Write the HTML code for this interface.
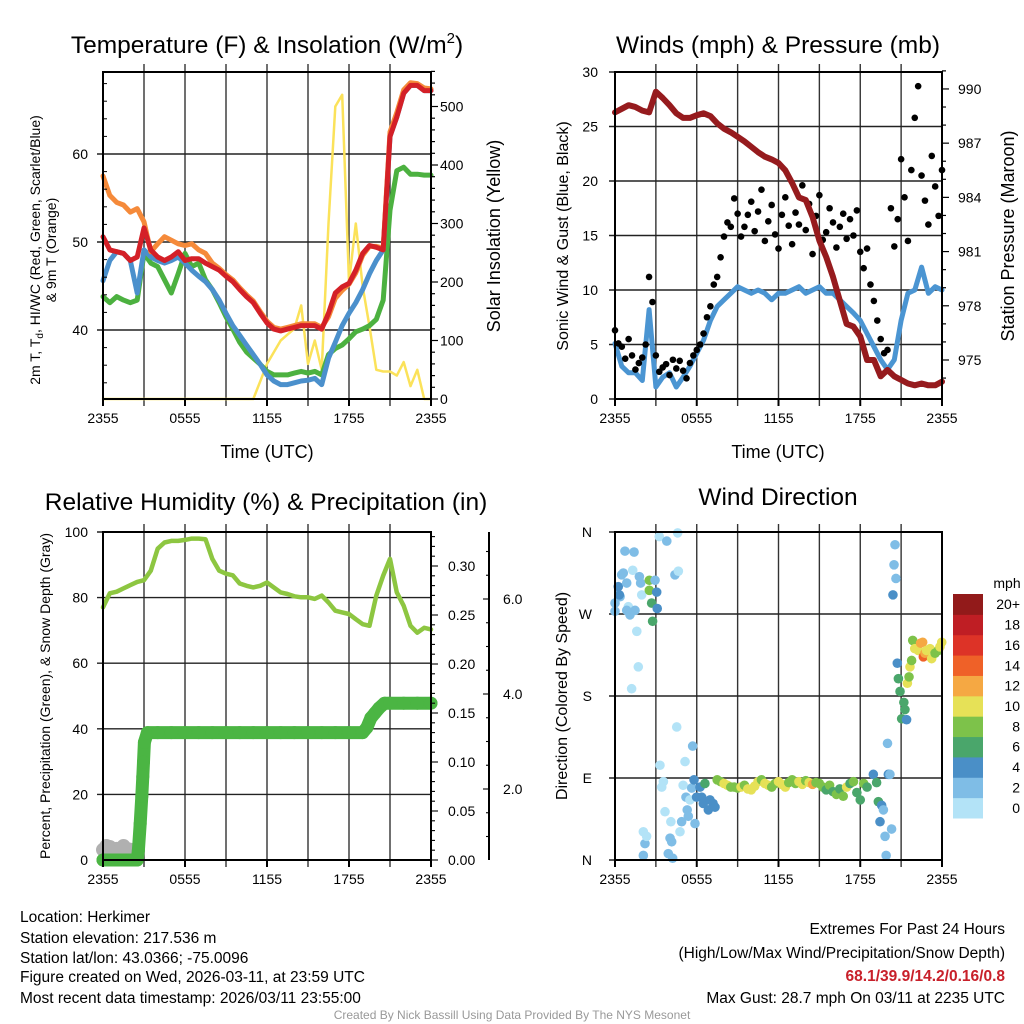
<!DOCTYPE html>
<html><head><meta charset="utf-8"><style>
html,body{margin:0;padding:0;background:#fff;}
svg{display:block;font-family:"Liberation Sans",sans-serif;}
</style></head><body>
<svg id="chart" width="1024" height="1024" viewBox="0 0 1024 1024" xmlns="http://www.w3.org/2000/svg">
<rect width="1024" height="1024" fill="#fff"/>
<g id="layer-grid"></g>
<g id="layer-data"></g>
<g id="layer-axes"></g>
<g id="layer-text" font-family="Liberation Sans, sans-serif">
<text x="267" y="53" font-size="24.5" text-anchor="middle">Temperature (F) &amp; Insolation (W/m<tspan font-size="15" dy="-10">2</tspan><tspan dy="10">)</tspan></text>
<text x="778" y="53" font-size="24.5" text-anchor="middle">Winds (mph) &amp; Pressure (mb)</text>
<text x="266" y="510" font-size="24.5" text-anchor="middle">Relative Humidity (%) &amp; Precipitation (in)</text>
<text x="778" y="505" font-size="24.5" text-anchor="middle">Wind Direction</text>
<text x="267" y="458" font-size="18" text-anchor="middle">Time (UTC)</text>
<text x="778" y="458" font-size="18" text-anchor="middle">Time (UTC)</text>
<text transform="translate(40,250) rotate(-90)" font-size="14" text-anchor="middle">2m T, T<tspan font-size="10" dy="3">d</tspan><tspan dy="-3">, HI/WC (Red, Green, Scarlet/Blue)</tspan></text>
<text transform="translate(56,250) rotate(-90)" font-size="14" text-anchor="middle">&amp; 9m T (Orange)</text>
<text transform="translate(500,236) rotate(-90)" font-size="18" text-anchor="middle">Solar Insolation (Yellow)</text>
<text transform="translate(568,236) rotate(-90)" font-size="16" text-anchor="middle">Sonic Wind &amp; Gust (Blue, Black)</text>
<text transform="translate(1014,236) rotate(-90)" font-size="18" text-anchor="middle">Station Pressure (Maroon)</text>
<text transform="translate(50,696) rotate(-90)" font-size="14" text-anchor="middle">Percent, Precipitation (Green), &amp; Snow Depth (Gray)</text>
<text transform="translate(567,696) rotate(-90)" font-size="16" text-anchor="middle">Direction (Colored By Speed)</text>
<text x="1007" y="588" font-size="14" text-anchor="middle">mph</text>
<g font-size="15.5">
<text x="20" y="922">Location: Herkimer</text>
<text x="20" y="943">Station elevation: 217.536 m</text>
<text x="20" y="963">Station lat/lon: 43.0366; -75.0096</text>
<text x="20" y="982">Figure created on Wed, 2026-03-11, at 23:59 UTC</text>
<text x="20" y="1003">Most recent data timestamp: 2026/03/11 23:55:00</text>
<text x="1005" y="934" text-anchor="end">Extremes For Past 24 Hours</text>
<text x="1005" y="958" text-anchor="end">(High/Low/Max Wind/Precipitation/Snow Depth)</text>
<text x="1005" y="981" text-anchor="end" fill="#c8202a" font-weight="bold">68.1/39.9/14.2/0.16/0.8</text>
<text x="1005" y="1003" text-anchor="end">Max Gust: 28.7 mph On 03/11 at 2235 UTC</text>
</g>
<text x="512" y="1019" font-size="12" fill="#999" text-anchor="middle">Created By Nick Bassill Using Data Provided By The NYS Mesonet</text>
</g>
</svg>
<script>
// ---------- DATA (half-hour steps from 2355 UTC) ----------
const timeLabels = ["2355","0555","1155","1755","2355"];
const tempRed = [50.6,49.1,48.9,48.7,47.9,48.3,51.6,49.1,48.3,47.9,48.3,48.9,47.9,48.1,48.1,47.6,47.2,46.8,46.1,45.5,44.6,43.8,43.1,41.9,40.8,40.1,39.9,40.1,40.3,40.5,40.5,40.5,40.1,41.9,44.2,44.9,45.3,46.8,48.7,49.6,49.4,49.1,62.0,64.2,66.9,67.8,67.8,67.2,67.2];
const temp9mOrange = [57.5,55.3,54.5,54.2,53.4,53.8,52.3,48.9,49.8,50.6,50.2,49.8,49.6,49.8,49.1,48.7,47.6,47.0,46.3,45.7,44.8,44.0,43.3,42.1,41.0,40.3,40.1,40.3,40.5,40.7,40.7,40.7,40.3,41.5,43.6,44.5,45.2,46.5,48.5,49.5,49.5,49.3,62.5,64.7,67.3,68.1,68.0,67.5,67.4];
const windChillBlue = [45.6,47.9,48.9,48.7,47.9,44.2,49.1,48.3,47.9,47.6,47.9,48.3,47.6,46.8,46.1,45.5,44.6,43.4,41.9,40.5,39.4,38.3,37.2,36.1,34.9,34.2,33.8,33.8,34.0,34.2,34.3,34.5,33.8,36.8,38.6,40.5,41.9,43.1,44.6,46.4,47.9,49.1,62.0,64.2,66.9,67.8,67.8,67.2,67.2];
const dewpointGreen = [43.8,43.1,43.8,43.4,43.1,43.4,48.7,47.6,47.2,45.7,44.2,46.4,48.7,47.2,47.6,45.7,44.6,43.1,41.5,40.1,38.6,37.5,36.8,36.1,35.3,34.9,34.9,34.9,35.1,35.3,35.1,35.3,34.9,37.2,37.9,38.3,39.0,39.8,40.1,40.5,41.2,43.4,53.6,58.1,58.5,57.7,57.7,57.6,57.6];
const insolation = [0,0,0,0,0,0,0,0,0,0,0,0,0,0,0,0,0,0,0,0,0,0,0,30,60,80,100,110,120,160,60,100,50,300,500,520,200,300,192,124,50,47,47,40,63,22,50,0,0];
const windSpeed = [5.1,3.0,2.4,2.4,1.7,8.2,1.1,2.0,2.4,1.1,2.0,3.0,4.2,5.4,7.2,8.5,9.1,9.7,10.3,10.0,9.7,10.0,9.7,9.1,9.7,9.7,10.0,10.3,9.7,10.0,10.3,9.7,9.7,9.1,8.5,7.9,7.2,6.0,4.8,3.6,2.7,3.6,7.2,9.7,10.0,12.1,9.7,10.3,10.0];
const pressure = [988.7,988.9,989.1,989.0,988.8,988.7,989.85,989.5,989.1,988.65,988.4,988.4,988.55,988.65,988.5,988.1,987.8,987.6,987.35,987.1,986.8,986.5,986.25,986.1,985.9,985.5,984.8,984.0,983.85,982.9,981.6,980.7,979.6,978.3,977.0,976.85,976.3,975.0,975.0,974.1,974.45,974.1,973.9,973.7,973.6,973.7,973.6,973.6,973.8];
const humidity = [77.0,81.3,81.8,82.8,83.8,84.8,85.3,88.2,94.9,96.8,97.3,97.3,97.6,98.0,98.0,97.8,91.8,88.2,87.3,86.8,84.3,83.6,83.1,83.6,84.6,83.1,81.6,81.1,80.4,80.1,80.1,79.6,80.6,78.5,76.0,75.5,75.0,73.4,71.9,71.4,80.6,86.7,91.8,81.6,77.5,71.4,69.3,70.8,70.3];
// gusts, 15-minute steps
const gusts = [6.3,5.1,4.8,3.7,5.5,4.0,2.7,3.3,3.8,5.0,11.2,8.9,4.0,2.5,2.9,3.2,2.2,3.6,2.8,3.5,2.6,1.9,3.3,4.0,4.5,5.0,6.0,7.5,8.5,10.5,11.2,13.0,14.9,16.2,15.8,18.4,17.0,14.9,15.8,16.9,18.1,15.4,17.2,19.2,14.5,16.3,17.8,15.1,13.8,16.9,18.5,15.9,14.2,17.1,16.0,19.6,15.5,17.9,13.3,16.8,18.7,14.6,15.3,17.5,16.2,13.9,15.8,17.0,14.7,16.5,15.0,17.3,13.5,12.0,13.8,10.5,9.0,7.2,5.5,4.2,4.5,17.5,14.0,16.5,22.0,18.5,14.5,21.0,25.8,28.7,20.5,18.2,16.0,22.3,19.5,16.8,21.0];
// precipitation accumulation (hours since 2355, inches)
const precipHours = [0,0.25,0.5,0.75,1,1.25,1.5,1.75,2,2.25,2.5,2.59,2.72,2.84,2.91,2.96,3.03,3.25,4,5,6,7,8,9,10,11,12,13,14,15,16,17,18,19,19.3,19.6,19.9,20.2,20.6,21,22,23,24];
const precipVals = [0,0,0,0,0,0,0,0,0,0,0,0.010,0.037,0.065,0.085,0.10,0.12,0.13,0.13,0.13,0.13,0.13,0.13,0.13,0.13,0.13,0.13,0.13,0.13,0.13,0.13,0.13,0.13,0.13,0.135,0.145,0.15,0.155,0.16,0.16,0.16,0.16,0.16];
const snowHours = [0,0.25,0.5,0.75,1,1.25,1.5,1.75,2,2.2];
const snowDepth = [0.72,0.8,0.78,0.72,0.74,0.72,0.8,0.74,0.72,0.7];
// wind direction scatter
const wdHours = [0.0,0.24,0.37,0.61,0.73,0.86,0.98,1.1,1.3,1.4,1.47,1.6,1.71,1.79,1.88,1.96,1.22,2.52,2.52,2.69,2.76,2.94,3.06,3.1,3.25,3.8,4.4,4.65,4.6,0.49,0.86,0.0,0.32,
 2.08,2.2,2.32,2.08,3.3,3.43,3.55,3.67,3.91,4.04,4.16,4.23,4.1,4.53,4.77,4.89,5.0,5.14,5.21,5.3,5.38,5.5,5.63,5.7,5.8,5.87,5.99,6.24,6.36,6.48,6.6,6.85,6.97,7.2,7.34,
 7.5,7.75,8,8.25,8.5,8.75,9,9.25,9.5,9.75,10,10.25,10.5,10.75,11,11.25,11.5,11.75,12,12.25,12.5,12.75,13,13.25,13.5,13.75,14,14.25,14.5,14.75,15,15.25,15.5,15.75,16,16.25,16.5,16.75,17,17.25,17.5,17.75,18,18.25,18.5,
 18.96,19.2,19.33,19.45,19.57,19.7,19.82,19.9,20.0,20.06,20.18,20.3,20.4,20.48,20.55,20.62,20.72,20.8,20.92,21.04,21.2,21.28,21.4,21.46,21.58,21.65,21.77,21.85,22.0,22.14,22.26,22.43,22.58,22.63,22.75,22.87,23.12,23.24,23.49,23.73,23.85,23.98];
const wdDirs = [273,300,289,315,339,304,278,269,318,338,274,251,212,311,304,291,188,307,296,282,262,307,294,276,355,350,313,317,359,313,274,282,291,
 31,18,26,5,104,80,86,53,7,24,20,2,42,146,31,42,82,108,69,55,48,66,79,125,88,40,69,80,69,62,84,55,66,62,58,
 88,86,84,82,80,80,79,80,82,78,77,81,86,88,84,82,80,84,86,83,80,85,88,84,86,83,87,85,83,85,84,80,77,82,75,72,78,70,80,84,86,74,66,84,80,
 94,85,64,42,60,55,26,5,128,94,94,34,291,324,346,309,216,199,185,155,173,165,154,194,201,212,219,241,232,232,230,238,239,223,227,230,232,221,227,230,234,239];
const wdSpeeds = [2,4,2,2,2,2,1,2,1,2,2,1,0,2,2,0,0,8,8,6,6,2,4,4,0,2,3,0,0,2,2,3,4,
 1,2,0,2,0,0,0,0,2,2,2,2,0,0,0,3,0,0,3,2,3,1,2,3,4,3,4,4,4,4,6,4,4,4,4,
 8,9,10,10,9,8,9,10,8,10,11,10,10,9,10,10,9,8,10,11,10,9,8,9,10,10,9,10,13,8,9,8,7,8,7,8,7,9,10,6,8,6,6,8,7,
 4,6,6,4,4,2,2,2,2,4,2,2,4,2,2,2,4,6,6,6,6,6,4,10,8,10,8,8,10,10,10,12,12,14,12,10,10,10,8,8,10,10];
const speedColors = ["#b3e3f7","#7fbde6","#4a8fc7","#4aa66b","#7dc24a","#e6e157","#f5a843","#ef6128","#dd3327","#bf1e24","#921a1a"];
const speedLabels = ["0","2","4","6","8","10","12","14","16","18","20+"];
const tempTicks = [40,50,60];
const insolTicks = [0,100,200,300,400,500];
const windTicks = [0,5,10,15,20,25,30];
const pressTicks = [975,978,981,984,987,990];
const rhTicks = [0,20,40,60,80,100];
const precipTicks = [0,0.05,0.10,0.15,0.20,0.25,0.30];
const snowTicks = [2,4,6];
const dirTicks = [0,90,180,270,360];
const dirLabels = ["N","E","S","W","N"];

// ---------- helpers ----------
const NS="http://www.w3.org/2000/svg";
const G=document.getElementById('layer-grid'),D=document.getElementById('layer-data'),A=document.getElementById('layer-axes');
function mk(parent,tag,attrs){const e=document.createElementNS(NS,tag);for(const k in attrs)e.setAttribute(k,attrs[k]);parent.appendChild(e);return e;}
const L={x0:103,x1:431}, R={x0:615,x1:942}, TOP={y0:72,y1:399}, BOT={y0:532,y1:860};
function xs(p){return h=>p.x0+h*(p.x1-p.x0)/24;}
const x1s=xs(L), x2s=xs(R);
const yTemp=t=>154+(60-t)*8.8, yIns=w=>399-w*0.585;
const yWind=v=>399-v*10.9, yPres=p=>360-(p-975)*18.07;
const yRH=r=>860-r*3.28, yPrc=p=>860-p*980, ySnow=s=>884-s*47.5;
const yDir=d=>860-d*328/360;
const halfHours=i=>i*0.5;

function panelFrame(p,ys,name){
  for(let k=1;k<8;k++){const x=p.x0+k*(p.x1-p.x0)/8;
    const l=mk(G,'line',{x1:x,x2:x,y1:ys.y0-8,y2:ys.y1+7,stroke:'#333','stroke-width':1.4});
    
    }
  const r=mk(A,'rect',{x:p.x0,y:ys.y0,width:p.x1-p.x0,height:ys.y1-ys.y0,fill:'none',stroke:'#000','stroke-width':2});
  
  
  timeLabels.forEach((t,i)=>{const x=p.x0+i*(p.x1-p.x0)/4;
    mk(A,'line',{x1:x,x2:x,y1:ys.y1,y2:ys.y1+7,stroke:'#000','stroke-width':2});
    const tx=mk(A,'text',{x:x,y:ys.y1+24,'font-size':14,'text-anchor':'middle'});tx.textContent=t;
    
    });
}
function hgrid(p,val,yf,name){const y=yf(val);
  const l=mk(G,'line',{x1:p.x0-6,x2:p.x1,y1:y,y2:y,stroke:'#222','stroke-width':1.4});
  
  }
function label(x,y,txt,anchor,name,size){const t=mk(A,'text',{x:x,y:y+5,'font-size':size||14,'text-anchor':anchor});t.textContent=txt;
  
  return t;}
function poly(pts,attrs,name){const e=mk(D,'polyline',Object.assign({points:pts.map(p=>p[0].toFixed(1)+','+p[1].toFixed(1)).join(' '),fill:'none','stroke-linejoin':'round','stroke-linecap':'round'},attrs));
  
  return e;}

// ---------- Panel 1 ----------
panelFrame(L,TOP,'temperature');
tempTicks.forEach(t=>{hgrid(L,t,yTemp,'temperature');label(88,yTemp(t),String(t),'end','temperature-y-tick-label');});
for(let t=34;t<=68;t+=2){mk(A,'line',{x1:L.x0,x2:L.x0+(t%10==0?0:4),y1:yTemp(t),y2:yTemp(t),stroke:'#000','stroke-width':1});}
for(let w=0;w<=560;w+=20){mk(A,'line',{x1:L.x1,x2:L.x1+(w%100==0?7:4),y1:yIns(w),y2:yIns(w),stroke:'#000','stroke-width':1.2});}
insolTicks.forEach(w=>label(440,yIns(w),String(w),'start','insolation-tick-label'));
poly(insolation.map((v,i)=>[x1s(halfHours(i)),yIns(v)]),{stroke:'#fbe25a','stroke-width':2.5},'insolation-line');
poly(dewpointGreen.map((v,i)=>[x1s(halfHours(i)),yTemp(v)]),{stroke:'#4cb140','stroke-width':5},'dewpoint-line');
poly(windChillBlue.map((v,i)=>[x1s(halfHours(i)),yTemp(v)]),{stroke:'#4b90cc','stroke-width':5},'windchill-line');
poly(temp9mOrange.map((v,i)=>[x1s(halfHours(i)),yTemp(v)]),{stroke:'#f58a3a','stroke-width':5},'temp-9m-line');
poly(tempRed.map((v,i)=>[x1s(halfHours(i)),yTemp(v)]),{stroke:'#d42027','stroke-width':5},'temp-2m-line');

// ---------- Panel 2 ----------
panelFrame(R,TOP,'winds');
windTicks.forEach(v=>{hgrid(R,v,yWind,'winds');label(598,yWind(v),String(v),'end','wind-y-tick-label');});
for(let p=974;p<=991;p++){mk(A,'line',{x1:R.x1,x2:R.x1+((p-975)%3==0?7:4),y1:yPres(p),y2:yPres(p),stroke:'#000','stroke-width':1.2});}
pressTicks.forEach(p=>label(958,yPres(p),String(p),'start','pressure-tick-label'));
poly(windSpeed.map((v,i)=>[x2s(halfHours(i)),yWind(v)]),{stroke:'#4b95d2','stroke-width':5},'wind-speed-line');
gusts.forEach((g,i)=>{const c=mk(D,'circle',{cx:x2s(i*0.25),cy:yWind(g),r:3.3,fill:'#000'});
  
  });
poly(pressure.map((v,i)=>[x2s(halfHours(i)),yPres(v)]),{stroke:'#961b1e','stroke-width':6},'pressure-line');

// ---------- Panel 3 ----------
panelFrame(L,BOT,'humidity');
rhTicks.forEach(r=>{hgrid(L,r,yRH,'humidity');label(88,yRH(r),String(r),'end','humidity-y-tick-label');});
for(let k=0;k<=33;k++){const p=k*0.01;mk(A,'line',{x1:L.x1,x2:L.x1+(k%5==0?7:4),y1:yPrc(p),y2:yPrc(p),stroke:'#000','stroke-width':1.1});}
precipTicks.forEach(p=>label(448,yPrc(p),p.toFixed(2),'start','precip-tick-label'));
mk(A,'line',{x1:489,x2:489,y1:BOT.y0,y2:BOT.y1,stroke:'#000','stroke-width':2});
for(let s=0.5;s<=7;s+=0.5){const y=ySnow(s);if(y<BOT.y0||y>BOT.y1)continue;mk(A,'line',{x1:489,x2:489-(s%2==0?6:3),y1:y,y2:y,stroke:'#000','stroke-width':1.1});}
snowTicks.forEach(s=>label(503,ySnow(s),s.toFixed(1),'start','snow-tick-label'));
poly(humidity.map((v,i)=>[x1s(halfHours(i)),yRH(v)]),{stroke:'#8dc641','stroke-width':4.5},'humidity-line');
snowDepth.forEach((s,i)=>{const c=mk(D,'circle',{cx:x1s(snowHours[i]),cy:ySnow(s),r:7,fill:'#b0b0b0'});
  
  });
poly(precipHours.map((h,i)=>[x1s(h),yPrc(precipVals[i])]),{stroke:'#4bb543','stroke-width':13},'precip-line').setAttribute('stroke-linejoin','round');
precipHours.forEach((h,i)=>{const c=mk(D,'circle',{cx:x1s(h),cy:yPrc(precipVals[i]),r:6.5,fill:'#4bb543'});
  
  });

// ---------- Panel 4 ----------
panelFrame(R,BOT,'direction');
dirTicks.forEach((d,i)=>{hgrid(R,d,yDir,'direction');label(592,yDir(d),dirLabels[i],'end','direction-tick-label');});
wdHours.forEach((h,i)=>{const b=Math.min(10,Math.floor(wdSpeeds[i]/2));
  const c=mk(D,'circle',{cx:x2s(h),cy:yDir(wdDirs[i]),r:4.8,fill:speedColors[b]});
  
  });
const cbTop=594,cbH=224/11;
speedColors.forEach((col,i)=>{const y=cbTop+(10-i)*cbH;
  const r=mk(A,'rect',{x:953,y:y,width:30,height:cbH+0.5,fill:col});
  
  
  label(1020,y+cbH/2,speedLabels[i],'end','colorbar-label');});
</script>
</body></html>
